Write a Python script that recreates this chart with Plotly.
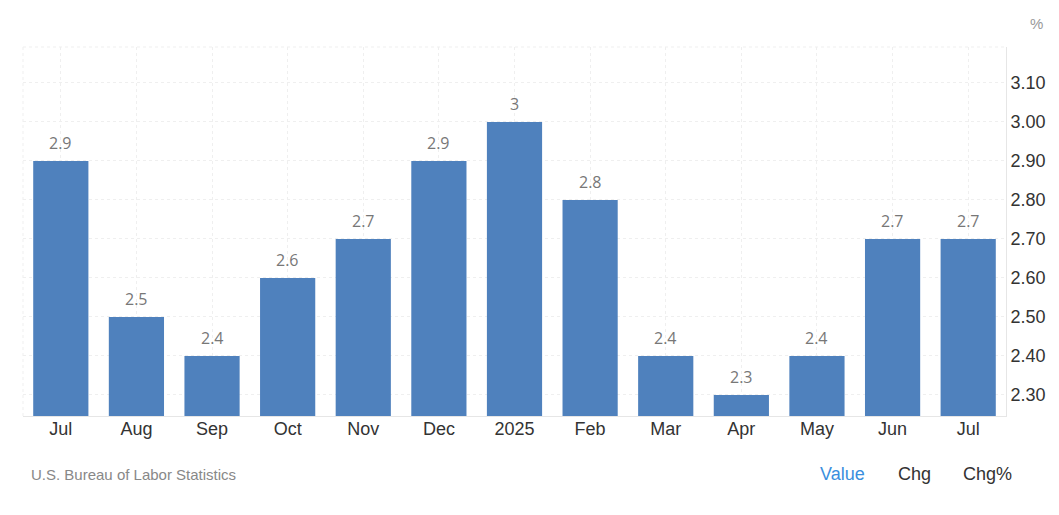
import plotly.graph_objects as go

categories = ["Jul", "Aug", "Sep", "Oct", "Nov", "Dec", "2025", "Feb", "Mar", "Apr", "May", "Jun", "Jul"]
values = [2.9, 2.5, 2.4, 2.6, 2.7, 2.9, 3.0, 2.8, 2.4, 2.3, 2.4, 2.7, 2.7]
value_labels = ["2.9", "2.5", "2.4", "2.6", "2.7", "2.9", "3", "2.8", "2.4", "2.3", "2.4", "2.7", "2.7"]
y_ticks = [2.3, 2.4, 2.5, 2.6, 2.7, 2.8, 2.9, 3.0, 3.1]
y_ticktext = ["2.30", "2.40", "2.50", "2.60", "2.70", "2.80", "2.90", "3.00", "3.10"]

x = list(range(len(categories)))
base = 2.246

fig = go.Figure()
fig.add_trace(go.Bar(
    x=x, y=[v - base for v in values], base=base,
    marker=dict(color="#4f81bd", line=dict(width=0)),
    width=0.73, hoverinfo="skip",
))

for xi, v, lab in zip(x, values, value_labels):
    fig.add_annotation(x=xi, y=v, text=lab, showarrow=False, yshift=18,
                       font=dict(family="Open Sans, Liberation Sans", size=16, color="#777777"))

PW = 983
fig.add_annotation(xref="paper", yref="paper", x=(1036 - 23) / PW, y=1.0, yshift=24, text="%",
                   showarrow=False, xanchor="center", yanchor="middle",
                   font=dict(family="Liberation Sans", size=15, color="#999999"))
fig.add_annotation(xref="paper", yref="paper", x=6 / PW, y=0, yshift=-58,
                   text="U.S. Bureau of Labor Statistics", showarrow=False,
                   xanchor="left", yanchor="middle",
                   font=dict(family="Liberation Sans", size=15, color="#888888"))
for label, xpos, col in [("Value", 842, "#3a8fde"), ("Chg", 914, "#333333"), ("Chg%", 987, "#333333")]:
    fig.add_annotation(xref="paper", yref="paper", x=(xpos - 23) / PW, y=0, yshift=-58,
                       text=label, showarrow=False, xanchor="center", yanchor="middle",
                       font=dict(family="Liberation Sans", size=18, color=col))

fig.update_layout(
    width=1051, height=507,
    margin=dict(l=15, r=53, t=39, b=99),
    paper_bgcolor="white", plot_bgcolor="white",
    showlegend=False,
    font=dict(family="Liberation Sans", size=18, color="#333333"),
)
fig.update_xaxes(
    tickmode="array", tickvals=x, ticktext=categories,
    range=[-0.5, len(categories) - 0.5],
    showgrid=True, gridcolor="#efefef", griddash="dot", gridwidth=1,
    showline=True, linecolor="#e6e6e6", linewidth=1,
    ticks="", tickfont=dict(size=18, color="#333333"), mirror=False,
    ticklabelstandoff=-4,
)
fig.update_yaxes(
    side="right", range=[base, 3.192],
    tickmode="array", tickvals=y_ticks, ticktext=y_ticktext,
    showgrid=True, gridcolor="#efefef", griddash="dot", gridwidth=1,
    showline=True, linecolor="#e6e6e6", linewidth=1,
    ticks="", tickfont=dict(size=18, color="#333333"), zeroline=False,
)
fig.add_shape(type="line", xref="paper", yref="paper", x0=0, x1=1, y0=1, y1=1,
              line=dict(color="#efefef", width=1, dash="dot"))
fig.add_shape(type="line", xref="paper", yref="paper", x0=0, x1=0, y0=0, y1=1,
              line=dict(color="#efefef", width=1, dash="dot"))

fig.write_html("out.html")
